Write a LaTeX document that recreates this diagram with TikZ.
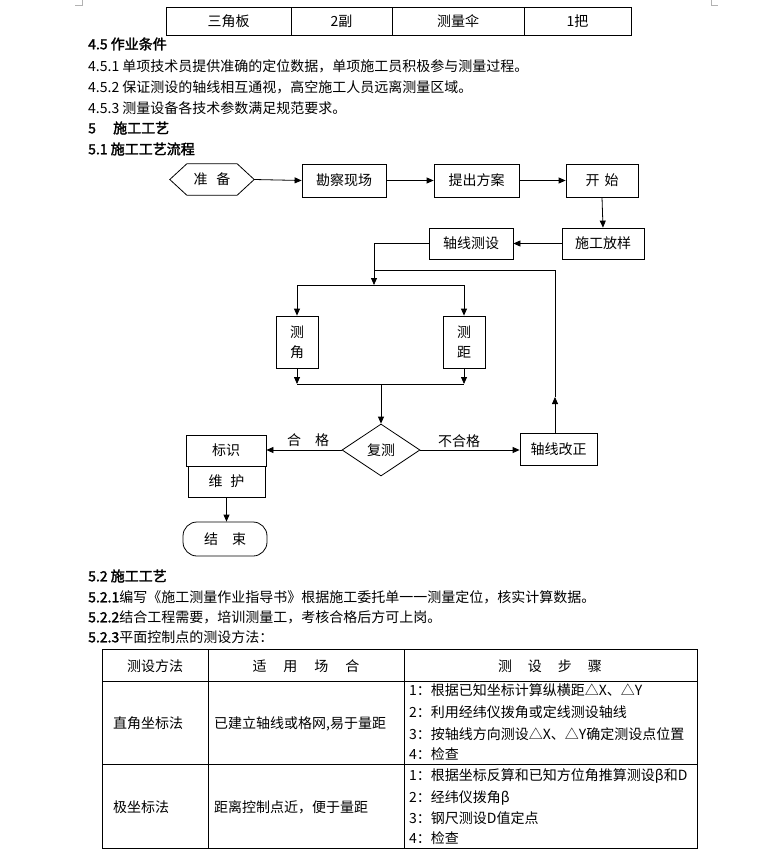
\documentclass[tikz,border=0pt]{standalone}
\usepackage{fontspec}
\setmainfont{Noto Sans CJK SC}
\newfontfamily\bfcjk{Noto Sans CJK SC}[FakeBold=2]
\usetikzlibrary{arrows.meta,calc,shapes.geometric}
\newcommand\fs{\fontsize{14}{20}\selectfont}
\begin{document}
\begin{tikzpicture}[x=1pt,y=-1pt,
  every node/.style={font=\fs, inner sep=0pt, text height=12.3pt, text depth=1.7pt},
  txt/.style={anchor=west},
  bd/.style={font=\fs\bfcjk},
  ln/.style={line width=0.8pt},
  arr/.style={line width=0.8pt, -{Triangle[length=7pt,width=6pt]}},
  box/.style={draw, line width=0.8pt},
  vbox/.style={draw, line width=0.8pt, align=center, text height={}, text depth={}},
  cornermark/.style={draw=gray!60, line width=0.6pt}]
\useasboundingbox (0,0) rectangle (780,849);

% page corner marks
\draw[cornermark] (75,5) -- (82,5) -- (82,0);
\draw[cornermark] (711,0) -- (711,5) -- (718,5);

% top table
\draw[ln] (166,7) rectangle (631,35);
\draw[ln] (291,7) -- (291,35) (392,7) -- (392,35) (524,7) -- (524,35);
\node (c1) at (228.5,21) {三角板};
\node (c2) at (341.5,21) {2副};
\node (c3) at (458,21) {测量伞};
\node (c4) at (577.5,21) {1把};

% text
\node[txt,bd] (h45) at (88,44) {4.5 作业条件};
\node[txt] (t451) at (88,66) {4.5.1 单项技术员提供准确的定位数据，单项施工员积极参与测量过程。};
\node[txt] (t452) at (88,87) {4.5.2 保证测设的轴线相互通视，高空施工人员远离测量区域。};
\node[txt] (t453) at (88,108) {4.5.3 测量设备各技术参数满足规范要求。};
\node[txt,bd] (h5) at (88,128) {\makebox[25pt][l]{5}施工工艺};
\node[txt,bd] (h51) at (88,149) {5.1 施工工艺流程};

% flowchart nodes
\node[minimum width=84pt, minimum height=31pt] (prep) at (212,179.5) {准\hspace{9pt}备};
\draw[ln] (prep.west) -- ($(prep.north west)+(17,0)$) -- ($(prep.north east)+(-17,0)$) -- (prep.east)
  -- ($(prep.south east)+(-17,0)$) -- ($(prep.south west)+(17,0)$) -- cycle;
\node[box, minimum width=84pt, minimum height=33pt] (survey) at (344,180.5) {勘察现场};
\node[box, minimum width=85pt, minimum height=33pt] (plan) at (476.5,180.5) {提出方案};
\node[box, minimum width=72pt, minimum height=33pt] (start) at (602,180.5) {开\hspace{5pt}始};
\node[box, minimum width=82pt, minimum height=31pt] (layout) at (603,243.5) {施工放样};
\node[box, minimum width=84pt, minimum height=31pt] (axis) at (471,243.5) {轴线测设};
\node[vbox, minimum width=42pt, minimum height=52pt] (ang) at (297,342) {测\\角};
\node[vbox, minimum width=42pt, minimum height=52pt] (dist) at (464,342) {测\\距};
\node[draw, line width=0.8pt, diamond, minimum width=78pt, minimum height=52pt] (check) at (381,450) {复测};
\node[box, minimum width=80pt, minimum height=31pt] (ident) at (226,450.5) {标识};
\node[box, minimum width=77pt, minimum height=31pt] (maint) at (226.5,481.5) {维\hspace{8pt}护};
\node[box, rounded corners=14pt, minimum width=84pt, minimum height=34pt] (finish) at (225,539) {结　束};
\node[box, minimum width=77pt, minimum height=32pt] (fix) at (558.5,449) {轴线改正};
\node (lpass) at (308,440) {合　格};
\node (lfail) at (459,441) {不合格};

% connectors
\coordinate (split) at (374,285);
\coordinate (merge) at (380,384);
\coordinate (up) at (555,397);
\coordinate (fbtop) at (555,270);
\draw[arr] (prep.east) -- (survey.west);
\draw[arr] (survey.east) -- (plan.west);
\draw[arr] (plan.east) -- (start.west);
\draw[arr] (start.south) -- (layout.north);
\draw[arr] (layout.west) -- (axis.east);
\draw[arr] (axis.west) -- (axis.west -| split) -- (split);
\draw[ln] (ang.north |- split) -- (dist.north |- split);
\draw[arr] (ang.north |- split) -- (ang.north);
\draw[arr] (dist.north |- split) -- (dist.north);
\draw[arr] (ang.south) -- (ang.south |- merge);
\draw[arr] (dist.south) -- (dist.south |- merge);
\draw[ln] (ang.south |- merge) -- (dist.south |- merge);
\draw[arr] (check.north |- merge) -- (check.north);
\draw[arr] (check.west) -- (check.west -| ident.east);
\draw[arr] (check.east) -- (check.east -| fix.west);
\draw[arr] (maint.south) -- (maint.south |- finish.north);
\draw[arr] (fix.north -| up) -- (up);
\draw[ln] (up) -- (fbtop) -- (fbtop -| split);

% section 5.2
\node[txt,bd] (h52) at (88,576) {5.2 施工工艺};
\node[txt] (t521) at (88,597) {{\bfcjk 5.2.1}编写《施工测量作业指导书》根据施工委托单一一测量定位，核实计算数据。};
\node[txt] (t522) at (88,617) {{\bfcjk 5.2.2}结合工程需要，培训测量工，考核合格后方可上岗。};
\node[txt] (t523) at (88,637) {{\bfcjk 5.2.3}平面控制点的测设方法：};

% bottom table
\draw[ln] (102,649) rectangle (697,848);
\draw[ln] (102,681) -- (697,681) (102,764) -- (697,764);
\draw[ln] (208,649) -- (208,848) (404,649) -- (404,848);
\node (th1) at (155,666) {测设方法};
\node (th2) at (306,666) {适\hspace{17pt}用\hspace{17pt}场\hspace{17pt}合};
\node (th3) at (550,666) {测\hspace{16pt}设\hspace{16pt}步\hspace{16pt}骤};
\node[txt] (r1a) at (113,723) {直角坐标法};
\node[txt] (r1b) at (214,723) {已建立轴线或格网,易于量距};
\node[txt] (r1s1) at (409,690) {1：根据已知坐标计算纵横距△X、△Y};
\node[txt] (r1s2) at (409,712) {2：利用经纬仪拨角或定线测设轴线};
\node[txt] (r1s3) at (409,734) {3：按轴线方向测设△X、△Y确定测设点位置};
\node[txt] (r1s4) at (409,754) {4：检查};
\node[txt] (r2a) at (113,807) {极坐标法};
\node[txt] (r2b) at (214,807) {距离控制点近，便于量距};
\node[txt] (r2s1) at (409,775) {1：根据坐标反算和已知方位角推算测设β和D};
\node[txt] (r2s2) at (409,797) {2：经纬仪拨角β};
\node[txt] (r2s3) at (409,818) {3：钢尺测设D值定点};
\node[txt] (r2s4) at (409,838) {4：检查};
\end{tikzpicture}
\end{document}
